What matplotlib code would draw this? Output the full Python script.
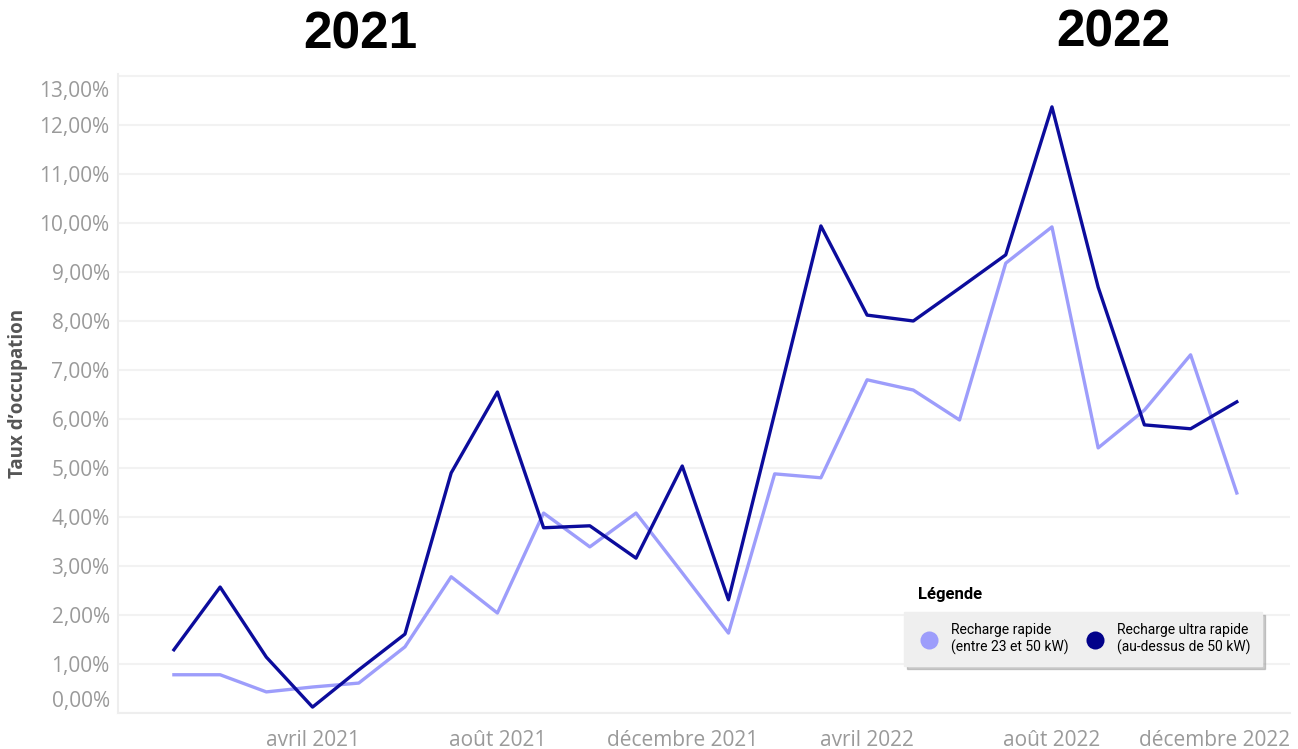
import numpy as np
import matplotlib.pyplot as plt
from matplotlib.lines import Line2D
from matplotlib.transforms import ScaledTranslation

plt.rcParams['font.family'] = ['Open Sans', 'DejaVu Sans']

# taux d'occupation mensuel (%), janvier 2021 -> décembre 2022
mois = ['2021-01', '2021-02', '2021-03', '2021-04', '2021-05', '2021-06',
        '2021-07', '2021-08', '2021-09', '2021-10', '2021-11', '2021-12',
        '2022-01', '2022-02', '2022-03', '2022-04', '2022-05', '2022-06',
        '2022-07', '2022-08', '2022-09', '2022-10', '2022-11', '2022-12']
rapide = [0.78, 0.78, 0.43, 0.53, 0.61, 1.35, 2.78, 2.04, 4.08, 3.39, 4.08, 2.86,
          1.63, 4.88, 4.80, 6.80, 6.59, 5.98, 9.18, 9.92, 5.41, 6.18, 7.31, 4.49]
ultra = [1.29, 2.57, 1.14, 0.12, 0.88, 1.61, 4.90, 6.55, 3.78, 3.82, 3.16, 5.04,
         2.31, 6.12, 9.94, 8.12, 8.00, 8.67, 9.35, 12.37, 8.69, 5.88, 5.80, 6.35]

x_ticks = [3, 7, 11, 15, 19, 23]
x_labels = ['avril 2021', 'août 2021', 'décembre 2021',
            'avril 2022', 'août 2022', 'décembre 2022']
y_ticks = list(range(14))
y_labels = [f'{v},00%' for v in y_ticks]

c_rapide = '#9d9dfb'
c_ultra = '#0c0c9c'

fig = plt.figure(figsize=(12.98, 7.49), dpi=100)
ax = fig.add_axes([0.0909, 0.0481, 0.9029, 0.8537])

x = np.arange(len(mois))
ax.plot(x, rapide, color=c_rapide, lw=2.4)
ax.plot(x, ultra, color=c_ultra, lw=2.4)

ax.set_xlim(-1.21, 24.15)
ax.set_ylim(0, 13.05)
ax.set_yticks(y_ticks)
ax.set_yticklabels(y_labels)
ax.set_xticks(x_ticks)
ax.set_xticklabels(x_labels)
ax.tick_params(length=0, labelsize=15, labelcolor='#9a9a9a')
ax.tick_params(axis='y', pad=6)
ax.tick_params(axis='x', pad=12)

# décalages des étiquettes comme sur l'original
lab = ax.get_xticklabels()[-1]
lab.set_transform(lab.get_transform() + ScaledTranslation(-0.22, 0, fig.dpi_scale_trans))
ylabs = ax.get_yticklabels()
ylabs[0].set_transform(ylabs[0].get_transform() + ScaledTranslation(0, 0.14, fig.dpi_scale_trans))
ylabs[-1].set_transform(ylabs[-1].get_transform() + ScaledTranslation(0, -0.13, fig.dpi_scale_trans))

ax.grid(axis='y', color='#f2f2f2', lw=1.5)
ax.set_axisbelow(True)
for s in ['top', 'right']:
    ax.spines[s].set_visible(False)
for s in ['left', 'bottom']:
    ax.spines[s].set_color('#eeeeee')
    ax.spines[s].set_linewidth(1.5)

fig.text(18 / 1298, 1 - 393 / 749, 'Taux d’occupation', rotation=90, ha='center', va='center',
         fontsize=13.5, fontweight='bold', color='#555555')

fig.text(360 / 1298, 1 - 35 / 749, '2021', ha='center', va='center', fontsize=37,
         fontweight='bold', family='Liberation Sans', color='black')
fig.text(1113 / 1298, 1 - 33 / 749, '2022', ha='center', va='center', fontsize=37,
         fontweight='bold', family='Liberation Sans', color='black')

# légende
handles = [Line2D([], [], ls='none', marker='o', ms=13, mfc=c_rapide, mec='none'),
           Line2D([], [], ls='none', marker='o', ms=13, mfc='#02028a', mec='none')]
ax.legend(handles, ['Recharge rapide\n(entre 23 et 50 kW)', 'Recharge ultra rapide\n(au-dessus de 50 kW)'],
          ncol=2, loc='center', bbox_to_anchor=(0.8344, 0.1469), bbox_transform=fig.transFigure,
          fancybox=False, shadow={'color': '#999999', 'alpha': 0.5}, facecolor='#efefef',
          edgecolor='#efefef', framealpha=1, prop={'family': 'Roboto', 'size': 10},
          handletextpad=0.6, columnspacing=0.9, borderpad=0.8, borderaxespad=0)
fig.text(918 / 1298, 1 - 595 / 749, 'Légende', ha='left', va='center', fontsize=12,
         fontweight='bold', family='Roboto', color='black')

fig.savefig('out.png', dpi=100)
